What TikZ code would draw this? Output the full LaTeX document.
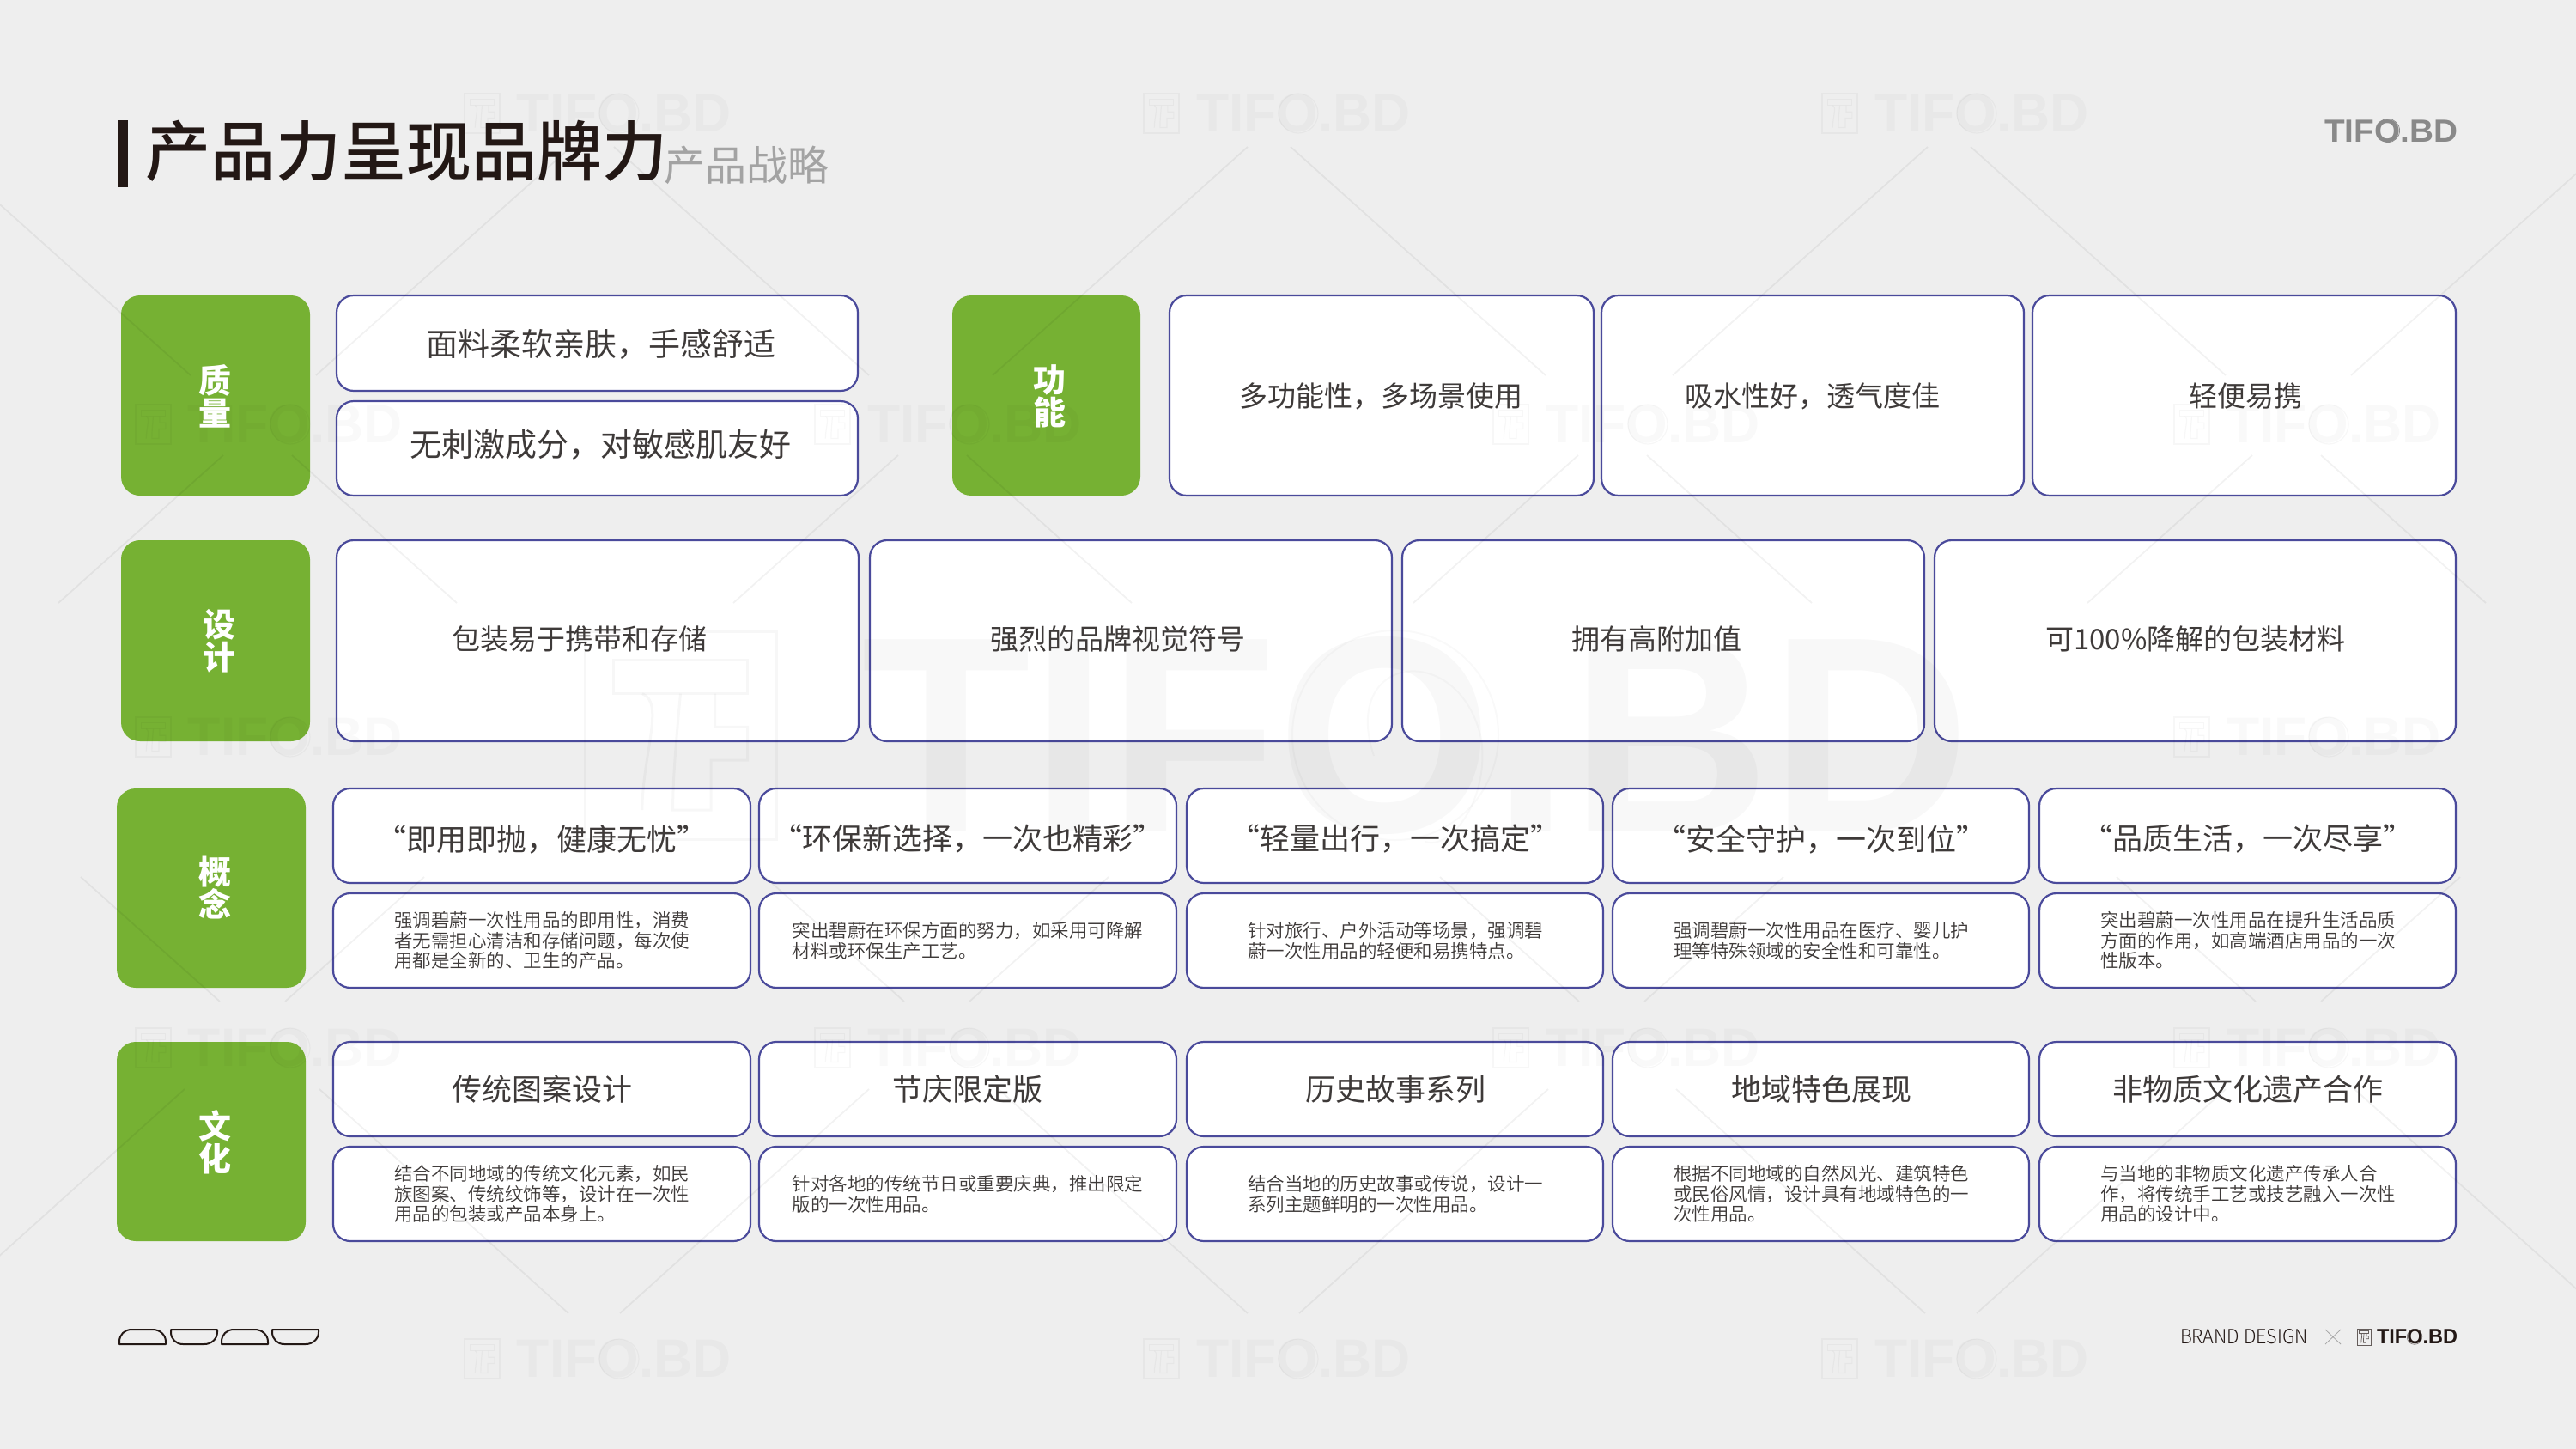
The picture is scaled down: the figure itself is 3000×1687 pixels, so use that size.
\documentclass[tikz,border=0pt]{standalone}
\usepackage{fontspec}
\usepackage{graphicx}
\setmainfont{Noto Sans CJK SC}
\newfontfamily\cjk{Noto Sans CJK SC}
\newfontfamily\cjklight{Noto Sans CJK SC Light}
\newfontfamily\cjkdl{Noto Sans CJK SC DemiLight}
\newfontfamily\cjkmed{Noto Sans CJK SC Medium}
\newfontfamily\wmfont{Liberation Sans}
\definecolor{pagebg}{HTML}{EEEEEE}
\definecolor{leaf}{HTML}{76B133}
\definecolor{indigo}{HTML}{4A4A9B}
\definecolor{ink}{HTML}{231815}
\definecolor{body}{HTML}{3E3A39}
\definecolor{subgrey}{HTML}{A3A3A3}
\definecolor{logogrey}{HTML}{898989}
\pgfdeclarelayer{boxes}
\pgfdeclarelayer{wm}
\pgfsetlayers{boxes,wm,main}
\tikzset{
  greenbox/.style={fill=leaf,rounded corners=11pt,inner sep=0pt,outer sep=0pt},
  whitebox/.style={fill=white,draw=indigo,line width=1.1pt,rounded corners=10pt,inner sep=0pt,outer sep=0pt},
  greentext/.style={text=white,align=center,inner sep=0pt,font=\cjk\bfseries\fontsize{19}{19}\selectfont},
  bodya/.style={text=body,inner sep=0pt,font=\cjk\fontsize{18.5}{22}\selectfont},
  bodyb/.style={text=body,inner sep=0pt,font=\cjk\fontsize{16.5}{20}\selectfont},
  bodyc/.style={text=body,inner sep=0pt,font=\cjk\fontsize{17.5}{20}\selectfont},
  smalltext/.style={text=body,inner sep=0pt,align=left,font=\cjkdl\fontsize{10.75}{11.85}\selectfont},
  bgline/.style={black,opacity=.05,line width=.9pt},
  wmthin/.style={black,opacity=.03,line width=.6pt},
  bowl/.style={draw=ink,line width=1pt,line join=round}
}
\newcommand{\boxat}[6]{% name,x0,y0,x1,y1,style
  \pgfmathsetmacro\bcx{(#2+#4)/2}\pgfmathsetmacro\bcy{(#3+#5)/2}%
  \pgfmathsetmacro\bw{(#4-#2)*0.5}\pgfmathsetmacro\bh{(#5-#3)*0.5}%
  \begin{pgfonlayer}{boxes}\node[#6,minimum width=\bw pt,minimum height=\bh pt] (#1) at (\bcx,\bcy) {};\end{pgfonlayer}}
\newcommand{\tifo}[7]{% name,x0,y0,x1,y1,nodeopts,text
  \pgfmathsetmacro\tcx{((#2)+(#4))/2}\pgfmathsetmacro\tcy{((#3)+(#5))/2}%
  \pgfmathsetmacro\tw{((#4)-(#2))*0.5}\pgfmathsetmacro\thh{((#5)-(#3))*0.5}%
  \node[inner sep=0pt,#6] (#1) at (\tcx,\tcy) {\resizebox{\tw pt}{\thh pt}{#7}};}
\newcommand{\logoicon}[5]{% x0,y0,width px,height px,style
  \begin{scope}[shift={(#1,#2)},x={(#3*0.5pt,0)},y={(0,-#4*0.5pt)},#5]
    \draw (0,0) rectangle (1,1);
    \draw (.15,.14) -- (.85,.14) -- (.85,.3) -- (.15,.3) -- cycle;
    \draw (.3,.3) .. controls (.42,.34) and (.3,.6) .. (.3,.86);
    \draw (.5,.3) .. controls (.48,.5) and (.46,.7) .. (.46,.86) -- (.66,.86) -- (.66,.62) -- (.85,.62) -- (.85,.46) -- (.68,.46) -- (.68,.3);
  \end{scope}}
\newcommand{\bowlup}[2]{\begin{scope}[shift={(#1,#2)}]\draw[bowl] (0,0) -- (54,0) -- (54,-3) .. controls (54,-11) and (47,-17) .. (39,-17) -- (14,-17) .. controls (6,-17) and (0,-11) .. (0,-3) -- cycle;\end{scope}}
\newcommand{\bowldown}[2]{\begin{scope}[shift={(#1,#2)}]\draw[bowl] (0,0) -- (54,0) -- (54,3) .. controls (54,11) and (47,17) .. (39,17) -- (14,17) .. controls (6,17) and (0,11) .. (0,3) -- cycle;\end{scope}}
\begin{document}
\begin{tikzpicture}[x=0.5pt,y=-0.5pt]
\useasboundingbox (0,0) rectangle (3000,1687);
\begin{pgfonlayer}{boxes}
\fill[pagebg] (0,0) rectangle (3000,1687);
\end{pgfonlayer}
% green label boxes
\boxat{g1}{141}{344}{361}{577}{greenbox}
\boxat{g2}{1109}{344}{1328}{577}{greenbox}
\boxat{g3}{141}{629}{361}{863}{greenbox}
\boxat{g4}{136}{918}{356}{1150}{greenbox}
\boxat{g5}{136}{1213}{356}{1445}{greenbox}
% row 1
\boxat{a1}{392}{344}{999}{455}{whitebox}
\boxat{a2}{392}{467}{999}{577}{whitebox}
\boxat{a3}{1362}{344}{1856}{577}{whitebox}
\boxat{a4}{1865}{344}{2357}{577}{whitebox}
\boxat{a5}{2367}{344}{2860}{577}{whitebox}
% row 2
\boxat{b1}{392}{629}{1000}{863}{whitebox}
\boxat{b2}{1013}{629}{1621}{863}{whitebox}
\boxat{b3}{1633}{629}{2241}{863}{whitebox}
\boxat{b4}{2253}{629}{2860}{863}{whitebox}
% rows 3 and 4
\boxat{c1}{388}{918}{874}{1028}{whitebox}
\boxat{c2}{884}{918}{1370}{1028}{whitebox}
\boxat{c3}{1382}{918}{1867}{1028}{whitebox}
\boxat{c4}{1878}{918}{2363}{1028}{whitebox}
\boxat{c5}{2375}{918}{2860}{1028}{whitebox}
\boxat{d1}{388}{1040}{874}{1150}{whitebox}
\boxat{d2}{884}{1040}{1370}{1150}{whitebox}
\boxat{d3}{1382}{1040}{1867}{1150}{whitebox}
\boxat{d4}{1878}{1040}{2363}{1150}{whitebox}
\boxat{d5}{2375}{1040}{2860}{1150}{whitebox}
\boxat{e1}{388}{1213}{874}{1323}{whitebox}
\boxat{e2}{884}{1213}{1370}{1323}{whitebox}
\boxat{e3}{1382}{1213}{1867}{1323}{whitebox}
\boxat{e4}{1878}{1213}{2363}{1323}{whitebox}
\boxat{e5}{2375}{1213}{2860}{1323}{whitebox}
\boxat{f1}{388}{1335}{874}{1445}{whitebox}
\boxat{f2}{884}{1335}{1370}{1445}{whitebox}
\boxat{f3}{1382}{1335}{1867}{1445}{whitebox}
\boxat{f4}{1878}{1335}{2363}{1445}{whitebox}
\boxat{f5}{2375}{1335}{2860}{1445}{whitebox}
% watermark layer
\begin{pgfonlayer}{wm}
\foreach \c in {-100,690,1478,2270,3060}{
  \draw[bgline] ({\c-25},171) -- ({\c-322},437);
  \draw[bgline] ({\c+25},171) -- ({\c+322},437);}
\foreach \c in {300,1086,1878,2663}{
  \draw[bgline] ({\c-40},530) -- ({\c-232},702);
  \draw[bgline] ({\c+40},530) -- ({\c+232},702);}
\foreach \c in {294,1091,1877,2665}{
  \draw[bgline] ({\c-38},1166) -- ({\c-200},1021);
  \draw[bgline] ({\c+38},1166) -- ({\c+200},1021);}
\foreach \c in {-105,692,1483,2272,3062}{
  \draw[bgline] ({\c-30},1529) -- ({\c-320},1268);
  \draw[bgline] ({\c+30},1529) -- ({\c+320},1268);}
% small watermarks: position list x,centre y
\foreach \lx/\ly [count=\k] in {541/132,1332/132,2122/132,158/494,949/494,1739/494,2532/494,158/858,2532/858,158/1220,949/1220,1739/1220,2532/1220,541/1582,1332/1582,2122/1582}{
  \logoicon{\lx}{\ly-23}{41}{46}{wmthin}
  \tifo{wm\k}{\lx+61}{\ly-22}{\lx+311}{\ly+22}{text opacity=.025}{\wmfont\bfseries TIFO.BD}
  \draw[wmthin] ({\lx+180},\ly) circle[radius=11.5pt];
}
% large central watermark
\logoicon{681}{735}{223}{242}{black,opacity=.03,line width=1.5pt}
\tifo{wmbig}{1004}{743}{2294}{970}{text opacity=.028}{\wmfont\bfseries TIFO.BD}
\draw[black,opacity=.025,line width=1pt] (1625,856) circle[x radius=60pt,y radius=61pt];
\draw[black,opacity=.025,line width=1pt] (1600,880) .. controls (1560,760) and (1700,745) .. (1725,860) .. controls (1735,930) and (1690,990) .. (1660,980);
\end{pgfonlayer}
% title
\fill[ink] (138,140) rectangle (149,218);
\node[anchor=west,text=ink,inner sep=0pt,font=\cjkmed\fontsize{38}{40}\selectfont] (title) at (169,176) {产品力呈现品牌力};
\node[anchor=west,text=subgrey,inner sep=0pt,font=\cjk\fontsize{24}{26}\selectfont] (subtitle) at (773,192) {产品战略};
% top right logo
\tifo{toplogo}{2707}{140}{2862}{166}{text=logogrey}{\wmfont\bfseries TIFO.BD}
\draw[logogrey,line width=.35pt] (2781,152) circle[radius=6.8pt];
% green labels
\node[greentext] (g1t) at (250,461) {质\\量};
\node[greentext] (g2t) at (1222,461) {功\\能};
\node[greentext] (g3t) at (255,746) {设\\计};
\node[greentext] (g4t) at (250,1034) {概\\念};
\node[greentext] (g5t) at (250,1330) {文\\化};
% row 1 text
\node[bodya] (a1t) at (700,401) {面料柔软亲肤，手感舒适};
\node[bodya] (a2t) at (699,518) {无刺激成分，对敏感肌友好};
\node[bodyb] (a3t) at (1608,461) {多功能性，多场景使用};
\node[bodyb] (a4t) at (2111,461) {吸水性好，透气度佳};
\node[bodyb] (a5t) at (2615,461) {轻便易携};
% row 2 text
\node[bodyb] (b1t) at (675,744) {包装易于携带和存储};
\node[bodyb] (b2t) at (1302,744) {强烈的品牌视觉符号};
\node[bodyb] (b3t) at (1929,744) {拥有高附加值};
\node[bodyb] (b4t) at (2557,744) {可100\%降解的包装材料};
% row 3 text
\node[bodyc] (c1t) at (631,977) {“即用即抛，健康无忧”};
\node[bodyc] (c2t) at (1127,977) {“环保新选择，一次也精彩”};
\node[bodyc] (c3t) at (1625,977) {“轻量出行，一次搞定”};
\node[bodyc] (c4t) at (2121,977) {“安全守护，一次到位”};
\node[bodyc] (c5t) at (2618,977) {“品质生活，一次尽享”};
\node[smalltext] (d1t) at (631,1095) {强调碧蔚一次性用品的即用性，消费\\者无需担心清洁和存储问题，每次使\\用都是全新的、卫生的产品。};
\node[smalltext] (d2t) at (1127,1095) {突出碧蔚在环保方面的努力，如采用可降解\\材料或环保生产工艺。};
\node[smalltext] (d3t) at (1625,1095) {针对旅行、户外活动等场景，强调碧\\蔚一次性用品的轻便和易携特点。};
\node[smalltext] (d4t) at (2121,1095) {强调碧蔚一次性用品在医疗、婴儿护\\理等特殊领域的安全性和可靠性。};
\node[smalltext] (d5t) at (2618,1095) {突出碧蔚一次性用品在提升生活品质\\方面的作用，如高端酒店用品的一次\\性版本。};
% row 4 text
\node[bodyc] (e1t) at (631,1268) {传统图案设计};
\node[bodyc] (e2t) at (1127,1268) {节庆限定版};
\node[bodyc] (e3t) at (1625,1268) {历史故事系列};
\node[bodyc] (e4t) at (2121,1268) {地域特色展现};
\node[bodyc] (e5t) at (2618,1268) {非物质文化遗产合作};
\node[smalltext] (f1t) at (631,1390) {结合不同地域的传统文化元素，如民\\族图案、传统纹饰等，设计在一次性\\用品的包装或产品本身上。};
\node[smalltext] (f2t) at (1127,1390) {针对各地的传统节日或重要庆典，推出限定\\版的一次性用品。};
\node[smalltext] (f3t) at (1625,1390) {结合当地的历史故事或传说，设计一\\系列主题鲜明的一次性用品。};
\node[smalltext] (f4t) at (2121,1390) {根据不同地域的自然风光、建筑特色\\或民俗风情，设计具有地域特色的一\\次性用品。};
\node[smalltext] (f5t) at (2618,1390) {与当地的非物质文化遗产传承人合\\作，将传统手工艺或技艺融入一次性\\用品的设计中。};
% footer
\bowlup{139}{1565}
\bowldown{199}{1548}
\bowlup{258}{1565}
\bowldown{317}{1548}
\tifo{brand}{2539}{1548}{2688}{1565}{text=ink}{\cjklight BRAND DESIGN}
\draw[black!35,line width=.4pt] (2708,1548) -- (2726,1565) (2726,1548) -- (2708,1565);
\logoicon{2745}{1547}{16}{19}{draw=ink!70,line width=.35pt}
\tifo{footlogo}{2768}{1548}{2862}{1565}{text=ink}{\wmfont\bfseries TIFO.BD}
\draw[ink!70,line width=.25pt] (2812,1556.5) circle[radius=4.4pt];
\end{tikzpicture}
\end{document}
